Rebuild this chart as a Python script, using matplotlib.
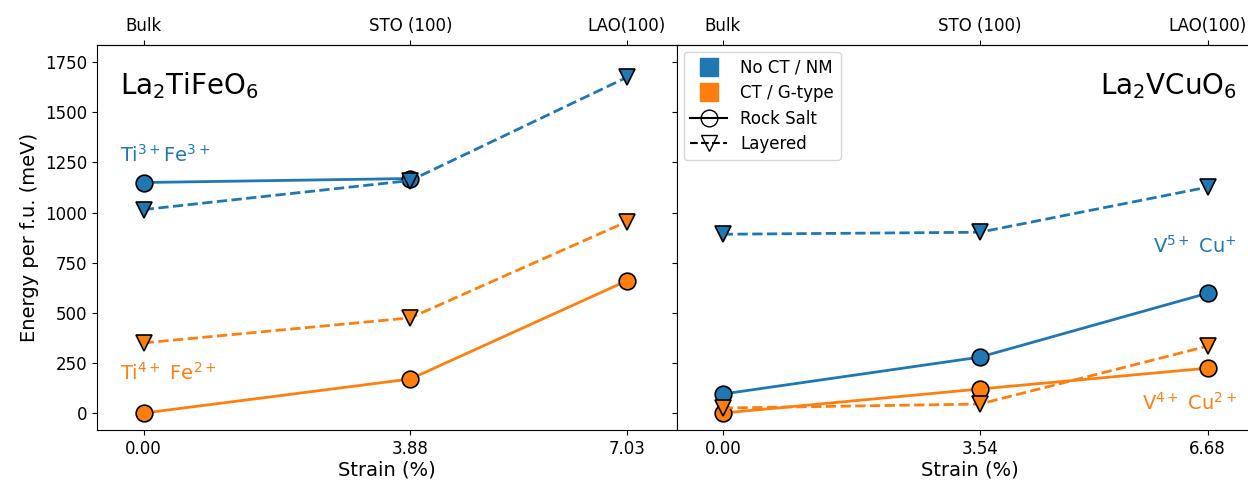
from matplotlib import pyplot as plt
from matplotlib.lines import Line2D

# La2TiFeO6
strain_tife = [0.00, 3.88, 7.03]
tife_nm_rock = [1150, 1170]
tife_nm_layer = [1015, 1160, 1675]
tife_ct_rock = [0, 170, 660]
tife_ct_layer = [350, 475, 955]

# La2VCuO6
strain_vcu = [0.00, 3.54, 6.68]
vcu_nm_rock = [95, 279, 598]
vcu_nm_layer = [892, 902, 1127]
vcu_ct_rock = [0, 120, 224]
vcu_ct_layer = [25, 45, 334]

top_labels = ["Bulk", "STO (100)", "LAO(100)"]

blue = "#1f77b4"
orange = "#ff7f0e"

fig = plt.figure(figsize=(12.48, 4.86), dpi=100)
ax1 = fig.add_axes([0.0777, 0.115, 0.4648, 0.792])
ax2 = fig.add_axes([0.5425, 0.115, 0.47, 0.792], sharey=ax1)

def panel(ax, x, nm_rock, nm_layer, ct_rock, ct_layer):
    mk = dict(markersize=12, markeredgecolor="black", markeredgewidth=1.2, lw=2)
    ax.plot(x[:len(nm_rock)], nm_rock, "-", color=blue, marker="o", **mk)
    ax.plot(x, nm_layer, "--", color=blue, marker="v", **mk)
    ax.plot(x, ct_rock, "-", color=orange, marker="o", **mk)
    ax.plot(x, ct_layer, "--", color=orange, marker="v", **mk)
    ax.set_xticks(x)
    ax.set_xticklabels(["%.2f" % v for v in x], fontsize=12)
    ax.set_xlabel("Strain (%)", fontsize=14, labelpad=2)
    top = ax.secondary_xaxis("top")
    top.set_xticks(x)
    top.set_xticklabels(top_labels, fontsize=12)

panel(ax1, strain_tife, tife_nm_rock, tife_nm_layer, tife_ct_rock, tife_ct_layer)
panel(ax2, strain_vcu, vcu_nm_rock, vcu_nm_layer, vcu_ct_rock, vcu_ct_layer)

ax1.set_xlim(-0.68, 7.76)
ax2.set_xlim(-0.63, 7.45)
ax1.set_ylim(-85, 1835)
ax1.set_yticks([0, 250, 500, 750, 1000, 1250, 1500, 1750])
ax1.tick_params(axis="y", labelsize=12)
ax1.set_ylabel("Energy per f.u. (meV)", fontsize=14)
ax2.tick_params(axis="y", labelleft=False)

ax1.text(0.04, 0.895, r"La$_2$TiFeO$_6$", transform=ax1.transAxes, fontsize=20, va="center")
ax1.text(0.04, 0.715, r"Ti$^{3+}$Fe$^{3+}$", transform=ax1.transAxes, fontsize=14, color=blue, va="center")
ax1.text(0.04, 0.15, r"Ti$^{4+}$ Fe$^{2+}$", transform=ax1.transAxes, fontsize=14, color=orange, va="center")

ax2.text(0.955, 0.895, r"La$_2$VCuO$_6$", transform=ax2.transAxes, fontsize=20, va="center", ha="right")
ax2.text(0.955, 0.48, r"V$^{5+}$ Cu$^{+}$", transform=ax2.transAxes, fontsize=14, color=blue, va="center", ha="right")
ax2.text(0.955, 0.07, r"V$^{4+}$ Cu$^{2+}$", transform=ax2.transAxes, fontsize=14, color=orange, va="center", ha="right")

handles = [
    Line2D([], [], ls="none", marker="s", markersize=13, color=blue, label="No CT / NM"),
    Line2D([], [], ls="none", marker="s", markersize=13, color=orange, label="CT / G-type"),
    Line2D([], [], color="black", ls="-", marker="o", markersize=12,
           markerfacecolor="none", label="Rock Salt"),
    Line2D([], [], color="black", ls="--", marker="v", markersize=12,
           markerfacecolor="none", label="Layered"),
]
ax2.legend(handles=handles, loc="upper left", fontsize=12, handlelength=2.2,
           borderaxespad=0.4, labelspacing=0.45)

fig.savefig("out.png", dpi=100)
